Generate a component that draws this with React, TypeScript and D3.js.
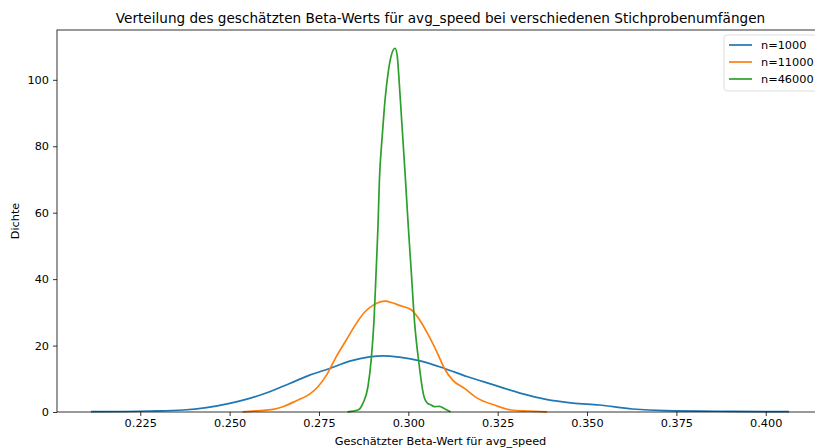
import React from "react";
import * as d3 from "d3";

// KDE curves (x = beta estimate, y = density)
const n1000X = [0.2112, 0.2277, 0.237, 0.2435, 0.25, 0.2556, 0.2612, 0.2668, 0.2724, 0.278, 0.2836, 0.2891, 0.2929, 0.2975, 0.3036, 0.3101, 0.3166, 0.3241, 0.3315, 0.3385, 0.346, 0.3534, 0.3627, 0.372, 0.3906, 0.4065];
const n1000Y = [0.1, 0.3, 0.6, 1.3, 2.6, 4.1, 6.1, 8.6, 11.1, 13.1, 15.3, 16.6, 16.9, 16.5, 15.3, 13.1, 10.6, 8.1, 5.6, 3.8, 2.7, 2.1, 0.9, 0.4, 0.2, 0.1];

const n11000X = [0.2536, 0.2584, 0.2621, 0.2649, 0.2687, 0.2724, 0.2747, 0.2771, 0.2798, 0.2826, 0.2854, 0.2878, 0.2901, 0.2935, 0.2957, 0.2975, 0.3008, 0.3026, 0.3054, 0.3082, 0.3101, 0.3124, 0.3157, 0.3194, 0.3241, 0.3287, 0.3334, 0.3388];
const n11000Y = [0.05, 0.4, 0.8, 1.6, 3.4, 5.4, 7.6, 11.1, 16.6, 21.6, 26.6, 30.1, 32.1, 33.4, 32.8, 32.1, 30.8, 28.6, 23.6, 17.6, 13.1, 9.6, 7.1, 4.1, 2.1, 0.6, 0.3, 0.05];

const n46000X = [0.283, 0.2859, 0.2873, 0.2887, 0.2896, 0.2904, 0.291, 0.2915, 0.2919, 0.2926, 0.2933, 0.2943, 0.2952, 0.2963, 0.2969, 0.2973, 0.2982, 0.2991, 0.3, 0.3008, 0.3017, 0.3031, 0.304, 0.3045, 0.3054, 0.3064, 0.3073, 0.3087, 0.3101, 0.3118];
const n46000Y = [0.05, 0.6, 2.6, 7.6, 15.6, 27.6, 42.6, 55.6, 69.7, 81.7, 91.7, 101.7, 107.2, 109.5, 107.2, 101.7, 86.7, 71.7, 55.6, 42.6, 27.6, 13.6, 6.6, 4.2, 2.6, 2.1, 1.6, 1.7, 1.0, 0.05];

const seriesNames = ["n=1000", "n=11000", "n=46000"];
const seriesColors = ["#1f77b4", "#ff7f0e", "#2ca02c"];
const xTicks = [0.225, 0.25, 0.275, 0.3, 0.325, 0.35, 0.375, 0.4];
const yTicks = [0, 20, 40, 60, 80, 100];

const title = "Verteilung des geschätzten Beta-Werts für avg_speed bei verschiedenen Stichprobenumfängen";
const xLabel = "Geschätzter Beta-Wert für avg_speed";
const yLabel = "Dichte";

const App = () => {
  const svgRef = React.useRef(null);
  const width = 815;
  const height = 448;
  const margin = { left: 57, top: 30, right: 824, bottom: 412 };

  React.useEffect(() => {
    const data = [
      { name: seriesNames[0], color: seriesColors[0], items: n1000X.map((x, i) => ({ x, y: n1000Y[i] })) },
      { name: seriesNames[1], color: seriesColors[1], items: n11000X.map((x, i) => ({ x, y: n11000Y[i] })) },
      { name: seriesNames[2], color: seriesColors[2], items: n46000X.map((x, i) => ({ x, y: n46000Y[i] })) },
    ];

    const xScale = d3.scaleLinear().domain([0.2017, 0.4163]).range([margin.left, margin.right]);
    const yScale = d3.scaleLinear().domain([0, 115]).range([margin.bottom, margin.top]);

    const svg = d3.select(svgRef.current);
    svg.selectAll("*").remove();
    const font = "DejaVu Sans, sans-serif";

    // curves
    const line = d3.line()
      .x((d) => xScale(d.x))
      .y((d) => yScale(d.y))
      .curve(d3.curveMonotoneX);
    svg.append("g")
      .selectAll("path")
      .data(data)
      .enter()
      .append("path")
      .attr("fill", "none")
      .attr("stroke", (d) => d.color)
      .attr("stroke-width", 1.7)
      .attr("stroke-linejoin", "round")
      .attr("d", (d) => line(d.items));

    // x axis
    const xAxis = d3.axisBottom(xScale)
      .tickValues(xTicks)
      .tickSize(4)
      .tickPadding(3)
      .tickFormat(d3.format(".3f"));
    const xAxisGroup = svg.append("g")
      .attr("transform", `translate(0, ${margin.bottom})`)
      .call(xAxis);
    xAxisGroup.select(".domain").remove();
    xAxisGroup.selectAll("line").attr("stroke", "#000").attr("stroke-width", 0.8);
    xAxisGroup.selectAll("text")
      .attr("font-size", 11.3)
      .attr("font-family", font)
      .attr("fill", "#000");

    // y axis
    const yAxis = d3.axisLeft(yScale)
      .tickValues(yTicks)
      .tickSize(4)
      .tickPadding(4);
    const yAxisGroup = svg.append("g")
      .attr("transform", `translate(${margin.left}, 0)`)
      .call(yAxis);
    yAxisGroup.select(".domain").remove();
    yAxisGroup.selectAll("line").attr("stroke", "#000").attr("stroke-width", 0.8);
    yAxisGroup.selectAll("text")
      .attr("font-size", 11.3)
      .attr("font-family", font)
      .attr("fill", "#000");

    // spines
    svg.append("rect")
      .attr("x", margin.left)
      .attr("y", margin.top)
      .attr("width", margin.right - margin.left)
      .attr("height", margin.bottom - margin.top)
      .attr("fill", "none")
      .attr("stroke", "#000")
      .attr("stroke-width", 0.8);

    // title and labels
    const cx = (margin.left + margin.right) / 2;
    svg.append("text")
      .attr("x", cx)
      .attr("y", 23)
      .attr("text-anchor", "middle")
      .attr("font-size", 13.6)
      .attr("font-family", font)
      .text(title);
    svg.append("text")
      .attr("x", cx)
      .attr("y", 445)
      .attr("text-anchor", "middle")
      .attr("font-size", 11.3)
      .attr("font-family", font)
      .text(xLabel);
    svg.append("text")
      .attr("transform", `translate(19, ${(margin.top + margin.bottom) / 2}) rotate(-90)`)
      .attr("text-anchor", "middle")
      .attr("font-size", 11.3)
      .attr("font-family", font)
      .text(yLabel);

    // legend
    const legend = svg.append("g").attr("transform", "translate(724, 35)");
    legend.append("rect")
      .attr("width", 100)
      .attr("height", 56)
      .attr("rx", 3)
      .attr("fill", "#fff")
      .attr("fill-opacity", 0.8)
      .attr("stroke", "#d6d6d6")
      .attr("stroke-width", 0.8);
    data.forEach((d, i) => {
      const y = 10 + i * 17;
      legend.append("line")
        .attr("x1", 5)
        .attr("x2", 28)
        .attr("y1", y)
        .attr("y2", y)
        .attr("stroke", d.color)
        .attr("stroke-width", 1.7);
      legend.append("text")
        .attr("x", 37)
        .attr("y", y + 4)
        .attr("font-size", 11.3)
        .attr("font-family", font)
        .text(d.name);
    });
  }, []);

  return (
    <svg
      ref={svgRef}
      width={width}
      height={height}
      style={{ position: "absolute", left: 0, top: 0, background: "#fff" }}
    />
  );
};

export default App;
